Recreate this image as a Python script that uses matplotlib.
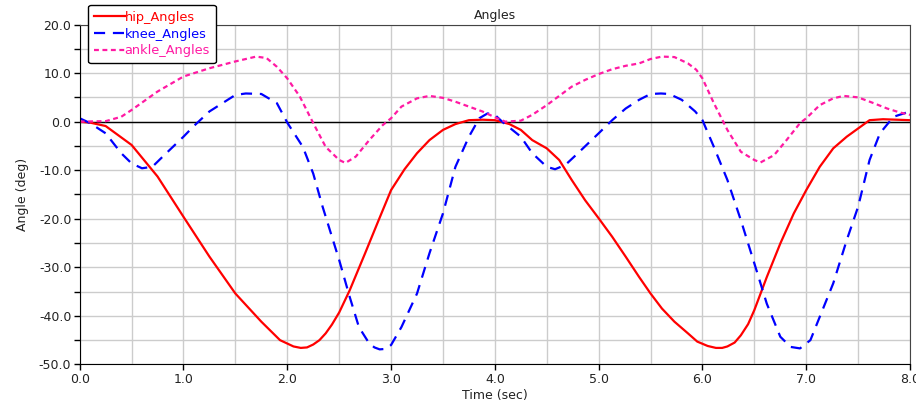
import numpy as np
import matplotlib
matplotlib.use("Agg")
import matplotlib.pyplot as plt
from matplotlib.ticker import MultipleLocator, FormatStrFormatter

plt.rcParams['font.family'] = ['DejaVu Sans']

# joint angle traces (deg) over two gait cycles
hip_t = [0.0, 0.1, 0.25, 0.5, 0.75, 1.0, 1.25, 1.5, 1.75, 1.93, 2.0, 2.06, 2.13,
         2.19, 2.25, 2.31, 2.37, 2.43, 2.5, 2.6, 2.75, 2.88, 3.0, 3.13, 3.25,
         3.37, 3.5, 3.62, 3.75, 3.88, 4.0, 4.14, 4.25, 4.36, 4.5, 4.62, 4.74,
         4.87, 5.0, 5.13, 5.26, 5.39, 5.5, 5.61, 5.73, 5.86, 5.95, 6.05, 6.13,
         6.19, 6.24, 6.31, 6.37, 6.44, 6.5, 6.62, 6.75, 6.88, 7.0, 7.13, 7.26,
         7.39, 7.5, 7.61, 7.74, 7.87, 8.0]
hip = [0.0, -0.2, -0.9, -4.8, -11.3, -19.6, -27.8, -35.4, -41.2, -45.0, -45.7,
       -46.3, -46.6, -46.5, -45.9, -45.0, -43.6, -41.8, -39.3, -34.8, -27.1,
       -20.3, -14.1, -9.8, -6.5, -3.8, -1.7, -0.5, 0.3, 0.4, 0.3, -0.5, -1.7,
       -3.8, -5.5, -7.9, -12.0, -16.2, -19.9, -23.7, -27.8, -32.0, -35.4, -38.5,
       -41.2, -43.6, -45.3, -46.2, -46.6, -46.6, -46.3, -45.5, -44.0, -41.7,
       -38.8, -32.0, -25.1, -18.9, -14.1, -9.3, -5.5, -3.1, -1.4, 0.3, 0.5,
       0.4, 0.3]

knee_t = [0.0, 0.1, 0.25, 0.4, 0.5, 0.6, 0.7, 0.8, 1.0, 1.1, 1.25, 1.5, 1.6,
          1.75, 1.9, 2.0, 2.15, 2.25, 2.34, 2.5, 2.6, 2.69, 2.79, 2.84, 2.89,
          2.95, 3.0, 3.1, 3.25, 3.37, 3.5, 3.62, 3.75, 3.85, 3.93, 4.0, 4.07,
          4.25, 4.36, 4.5, 4.58, 4.68, 4.8, 5.0, 5.13, 5.26, 5.39, 5.5, 5.6,
          5.68, 5.8, 5.93, 6.0, 6.11, 6.24, 6.37, 6.5, 6.62, 6.75, 6.85, 6.94,
          7.04, 7.13, 7.26, 7.39, 7.5, 7.61, 7.71, 7.84, 7.97, 8.0]
knee = [0.7, -0.3, -2.4, -6.5, -8.6, -9.6, -9.3, -7.2, -3.1, -0.9, 2.1, 5.5, 5.8,
        5.7, 3.8, -0.2, -5.2, -10.7, -17.5, -28.5, -36.0, -42.3, -45.7, -46.5,
        -46.9, -46.8, -46.0, -42.3, -35.4, -27.1, -18.9, -9.3, -3.1, 0.7, 1.7,
        1.4, 0.0, -3.1, -6.5, -9.3, -9.8, -8.9, -6.5, -2.4, 0.3, 2.7, 4.5, 5.7,
        5.8, 5.7, 4.5, 2.1, 0.3, -5.2, -12.0, -20.3, -29.2, -37.5, -44.3, -46.4,
        -46.7, -45.0, -40.2, -33.3, -24.4, -17.5, -7.9, -2.4, 1.0, 1.9, 2.0]

ankle_t = [0.0, 0.25, 0.4, 0.5, 0.75, 1.0, 1.25, 1.5, 1.7, 1.8, 1.9, 2.0, 2.12,
           2.25, 2.37, 2.5, 2.56, 2.66, 2.79, 2.92, 3.0, 3.1, 3.25, 3.37, 3.5,
           3.62, 3.75, 3.88, 4.0, 4.1, 4.25, 4.36, 4.5, 4.62, 4.74, 4.87, 5.0,
           5.13, 5.26, 5.39, 5.5, 5.61, 5.73, 5.86, 5.94, 6.0, 6.11, 6.24, 6.37,
           6.5, 6.56, 6.69, 6.81, 6.94, 7.0, 7.13, 7.26, 7.36, 7.5, 7.65, 7.78,
           7.9, 8.0]
ankle = [0.0, 0.1, 1.0, 2.4, 6.2, 9.3, 11.0, 12.4, 13.4, 13.1, 11.3, 8.9, 5.2,
         -0.3, -5.2, -7.9, -8.5, -7.2, -3.8, -0.7, 0.7, 3.1, 4.8, 5.3, 4.9, 4.1,
         3.1, 2.1, 0.9, 0.0, 0.2, 1.4, 3.4, 5.3, 7.2, 8.6, 9.8, 10.8, 11.5, 12.0,
         12.9, 13.4, 13.3, 12.0, 10.7, 8.9, 3.8, -1.7, -6.2, -7.9, -8.4, -6.9,
         -3.8, -0.3, 0.7, 3.4, 4.8, 5.3, 5.0, 3.8, 2.7, 1.9, 1.4]

fig = plt.figure(figsize=(9.16, 4.09), dpi=100)
ax = fig.add_axes([0.087, 0.109, 0.9065, 0.831])

# zero reference line
ax.axhline(0, color='black', lw=1.0, zorder=1.5)

l1, = ax.plot(hip_t, hip, color='#ff0000', lw=1.6, label='hip_Angles',
              solid_joinstyle='round')
l2, = ax.plot(knee_t, knee, color='#0000ff', lw=1.6, dashes=(5, 3.5),
              label='knee_Angles', dash_joinstyle='round')
l3, = ax.plot(ankle_t, ankle, color='#ff1aa3', lw=1.6, dashes=(2.2, 1.6),
              label='ankle_Angles', dash_joinstyle='round')

ax.set_xlim(0, 8)
ax.set_ylim(-50, 20)
ax.xaxis.set_major_locator(MultipleLocator(1.0))
ax.xaxis.set_minor_locator(MultipleLocator(0.5))
ax.yaxis.set_major_locator(MultipleLocator(10.0))
ax.yaxis.set_minor_locator(MultipleLocator(5.0))
ax.xaxis.set_major_formatter(FormatStrFormatter('%.1f'))
ax.yaxis.set_major_formatter(FormatStrFormatter('%.1f'))
ax.grid(which='both', color='#cccccc', lw=1.0)
ax.set_axisbelow(True)
ax.tick_params(which='major', length=4, width=1, labelsize=9,
               labelcolor='#222222', pad=2)
ax.tick_params(axis='y', which='minor', length=4, width=1)
ax.tick_params(axis='x', which='minor', length=0)
for s in ['top', 'right']:
    ax.spines[s].set_color('#444444')

ax.set_title('Angles', fontsize=9, color='#222222', pad=4)
ax.set_xlabel('Time (sec)', fontsize=9, color='#222222', labelpad=2)
ax.set_ylabel('Angle (deg)', fontsize=9, color='#222222', labelpad=7)

# legend box sits above the top-left corner of the axes
leg = fig.legend(handles=[l1, l2, l3], loc='upper left',
                 bbox_to_anchor=(0.096, 0.988), fontsize=9.3, frameon=True,
                 fancybox=True, edgecolor='black', framealpha=1,
                 handlelength=2.4, handletextpad=0.0, borderpad=0.45,
                 labelspacing=0.3, borderaxespad=0)
leg.get_frame().set_linewidth(1.0)
for txt, ln in zip(leg.get_texts(), [l1, l2, l3]):
    txt.set_color(ln.get_color())

fig.savefig('out.png', dpi=100)
